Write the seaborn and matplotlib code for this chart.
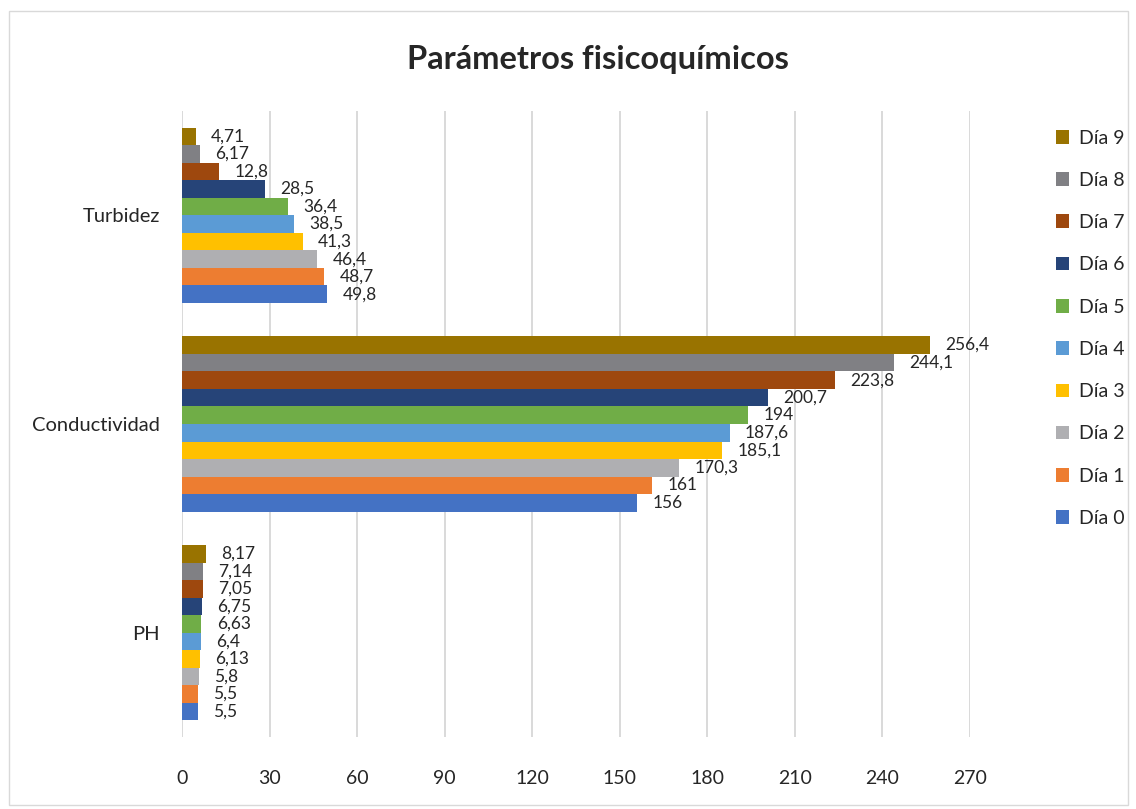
import matplotlib
matplotlib.use("Agg")
import matplotlib.pyplot as plt
import matplotlib.patches as mpatches
import seaborn as sns
import pandas as pd

# Parameters (top to bottom) and sampling days (top to bottom within each group)
parametros = ["Turbidez", "Conductividad", "PH"]
dias = ["Día 9", "Día 8", "Día 7", "Día 6", "Día 5", "Día 4", "Día 3", "Día 2", "Día 1", "Día 0"]

# Measured values per day, in the order of `parametros`
dia_0 = [49.8, 156, 5.5]
dia_1 = [48.7, 161, 5.5]
dia_2 = [46.4, 170.3, 5.8]
dia_3 = [41.3, 185.1, 6.13]
dia_4 = [38.5, 187.6, 6.4]
dia_5 = [36.4, 194, 6.63]
dia_6 = [28.5, 200.7, 6.75]
dia_7 = [12.8, 223.8, 7.05]
dia_8 = [6.17, 244.1, 7.14]
dia_9 = [4.71, 256.4, 8.17]

series = {
    "Día 0": dia_0, "Día 1": dia_1, "Día 2": dia_2, "Día 3": dia_3, "Día 4": dia_4,
    "Día 5": dia_5, "Día 6": dia_6, "Día 7": dia_7, "Día 8": dia_8, "Día 9": dia_9,
}

colores = {
    "Día 0": "#4472C4", "Día 1": "#ED7D31", "Día 2": "#AFAFB2", "Día 3": "#FFC000",
    "Día 4": "#5B9BD5", "Día 5": "#70AD47", "Día 6": "#264478", "Día 7": "#9E480E",
    "Día 8": "#808084", "Día 9": "#997300",
}

x_ticks = [0, 30, 60, 90, 120, 150, 180, 210, 240, 270]

rows = []
for dia, vals in series.items():
    for p, v in zip(parametros, vals):
        rows.append({"Parámetro": p, "Día": dia, "Valor": v})
df = pd.DataFrame(rows)

sns.set_theme(style="white")
plt.rcParams["font.family"] = ["Lato", "DejaVu Sans"]
TXT = "#262626"

W, H = 1136, 809
fig = plt.figure(figsize=(W / 100, H / 100), dpi=100)
ax = fig.add_axes([182 / W, 1 - 737 / H, (970 - 182) / W, (737 - 111) / H])

sns.barplot(
    data=df, y="Parámetro", x="Valor", hue="Día",
    order=parametros, hue_order=dias, palette=colores,
    orient="h", width=0.84, linewidth=0, saturation=1, ax=ax, legend=True,
)

# Value labels with decimal comma
for cont, dia in zip(ax.containers, dias):
    labels = [f"{v:g}".replace(".", ",") for v in series[dia]]
    ax.bar_label(cont, labels=labels, padding=11, fontsize=12.5, color=TXT)

ax.set_xlim(0, 270)
ax.set_xticks(x_ticks)
ax.set_xticklabels([str(t) for t in x_ticks], fontsize=14, color=TXT)
ax.tick_params(axis="x", length=0, pad=24)
ax.tick_params(axis="y", length=0, pad=16, labelsize=14.5, labelcolor=TXT)
ax.set_xlabel("")
ax.set_ylabel("")
ax.grid(axis="x", color="#D9D9D9", linewidth=1.4)
ax.set_axisbelow(True)
for s in ax.spines.values():
    s.set_visible(False)

# Legend on the right
handles, labels = ax.get_legend_handles_labels()
ax.get_legend().remove()
fig.legend(
    handles, labels, loc="upper left", bbox_to_anchor=(1038 / W, 1 - 112 / H),
    frameon=False, fontsize=14, labelspacing=1.3, handlelength=0.7,
    handleheight=0.7, handletextpad=0.5, labelcolor=TXT,
)

fig.text(598 / W, 1 - 60 / H, "Parámetros fisicoquímicos", ha="center", va="center",
         fontsize=23.5, fontweight="bold", color=TXT)

# Chart area border
fig.patches.append(mpatches.Rectangle(
    (9 / W, 4 / H), 1119 / W, 794 / H, transform=fig.transFigure,
    fill=False, edgecolor="#D9D9D9", linewidth=1.0))

fig.savefig("out.png", dpi=100)
